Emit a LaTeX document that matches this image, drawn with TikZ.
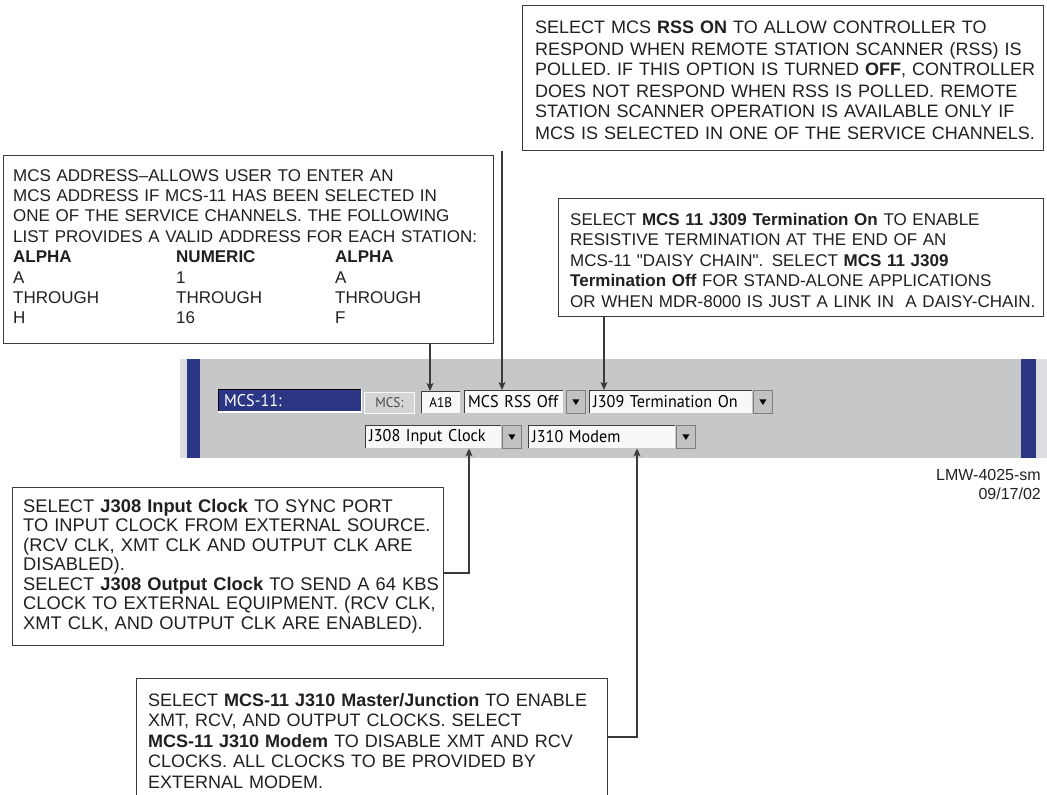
\documentclass[tikz,border=0pt]{standalone}
\usepackage{fontspec}
\setmainfont[Ligatures=TeXOff]{Liberation Sans}
\newfontfamily\uifont[FakeStretch=0.95]{PT Sans}
\usetikzlibrary{arrows.meta,calc}

\definecolor{ink}{HTML}{231F20}
\definecolor{wire}{HTML}{3A3A3A}
\definecolor{panelgray}{HTML}{C6C7C9}
\definecolor{panellight}{HTML}{DDDEE0}
\definecolor{panelblue}{HTML}{2B3784}
\definecolor{fieldbg}{HTML}{F8F8F8}
\definecolor{fieldedge}{HTML}{3C3C3C}
\definecolor{btngray}{HTML}{C0C1C3}
\definecolor{btnedge}{HTML}{7D7E80}
\definecolor{lblgray}{HTML}{D3D4D6}
\definecolor{lbltext}{HTML}{4A4A4A}

\begin{document}
\begin{tikzpicture}[x=1pt,y=-1pt,
  callout/.style={draw=wire,line width=1.2pt,fill=white,inner sep=0pt,anchor=north west},
  note/.style={anchor=base west,align=left,inner sep=0pt,text=ink,text width=#1},
  note/.default=520pt,
  arr/.style={draw=wire,line width=1.3pt,-{Stealth[length=8pt,width=7pt,inset=2pt]}},
  uitext/.style={font=\uifont\fontsize{17}{20}\selectfont},
  field/.style={anchor=north west,inner sep=0pt,inner xsep=4pt,fill=fieldbg,
    minimum height=23pt,align=left,uitext,text=black,
    path picture={\draw[fieldedge,line width=2.4pt]
      (path picture bounding box.south west) -- (path picture bounding box.north west)
      -- (path picture bounding box.north east);}},
  dropbtn/.style={anchor=north west,inner sep=0pt,fill=btngray,draw=btnedge,line width=0.8pt,
    minimum width=19pt,minimum height=23pt,
    path picture={\fill[black] ([shift={(-3.5,-2.5)}]path picture bounding box.center)
      -- ++(7,0) -- ++(-3.5,5.5) -- cycle;}},
]
\useasboundingbox (0,0) rectangle (1047,795);
\clip (0,0) rectangle (1047,795);

% ---------- control panel strip ----------
\node[fill=panellight,inner sep=0pt,anchor=north west,minimum width=867pt,minimum height=99pt] (panel) at (180,359) {};
\node[fill=panelgray,inner sep=0pt,anchor=north west,minimum width=821pt,minimum height=99pt] (panelmid) at (200,359) {};
\node[fill=panelblue,inner sep=0pt,anchor=north west,minimum width=13pt,minimum height=99pt] (barL) at (187,359) {};
\node[fill=panelblue,inner sep=0pt,anchor=north west,minimum width=15pt,minimum height=99pt] (barR) at (1021,359) {};

% first row of controls
\node[anchor=north west,inner sep=0pt,inner xsep=6pt,fill=panelblue,text width=132pt,
  minimum height=23pt,align=left,uitext,text=white,
  path picture={\draw[black,line width=2.4pt]
      (path picture bounding box.south west) -- (path picture bounding box.north west)
      -- (path picture bounding box.north east);
    \draw[white,line width=1.6pt]
      (path picture bounding box.south west) -- (path picture bounding box.south east)
      -- (path picture bounding box.north east);}] (mcs11) at (218,389) {MCS-11:};
\node[anchor=north west,inner sep=0pt,fill=lblgray,draw=white!85!lblgray,line width=0.8pt,
  minimum width=50pt,minimum height=21pt,text=lbltext,
  font=\uifont\fontsize{14}{16}\selectfont] (mcslbl) at (364,392) {MCS:};
\node[field,inner xsep=0pt,text width=39pt,align=center,minimum height=22pt,
  font=\uifont\fontsize{14}{16}\selectfont] (a1b) at (421,391) {A1B};
\node[field,text width=91pt] (rss) at (464,390) {MCS~RSS~Off};
\node[dropbtn] (rssbtn) at (566,390) {};
\node[field,text width=155pt] (j309) at (589,390) {J309~Termination~On};
\node[dropbtn] (j309btn) at (753,390) {};

% second row of controls
\node[field,text width=128pt] (j308) at (365,425) {J308~Input~Clock};
\node[dropbtn] (j308btn) at (502,425) {};
\node[field,text width=139pt] (j310) at (528,425) {J310~Modem};
\node[dropbtn] (j310btn) at (676,425) {};

% ---------- callout boxes ----------
\node[callout,minimum width=521pt,minimum height=145pt] (rssbox) at (522,5) {};
\node[note,font=\fontsize{18}{21}\selectfont] (rsstxt) at (535,34)
 {SELECT MCS \textbf{RSS ON} TO ALLOW CONTROLLER TO\\
  RESPOND WHEN REMOTE STATION SCANNER (RSS) IS\\
  POLLED. IF THIS OPTION IS TURNED \textbf{OFF}, CONTROLLER\\
  DOES NOT RESPOND WHEN RSS IS POLLED. REMOTE\\
  STATION SCANNER OPERATION IS AVAILABLE ONLY IF\\
  MCS IS SELECTED IN ONE OF THE SERVICE CHANNELS.};

\node[callout,minimum width=490pt,minimum height=188pt] (addr) at (3,155) {};
\node[note,font=\fontsize{17}{20.4}\selectfont] (addrtxt) at (13,181)
 {MCS ADDRESS–ALLOWS USER TO ENTER AN\\
  MCS ADDRESS IF MCS-11 HAS BEEN SELECTED IN\\
  ONE OF THE SERVICE CHANNELS. THE FOLLOWING\\
  LIST PROVIDES A VALID ADDRESS FOR EACH STATION:};
\node[note=150pt,font=\fontsize{17}{20.4}\selectfont] (colA) at (13,262.6)
 {\textbf{ALPHA}\\A\\THROUGH\\H};
\node[note=150pt,font=\fontsize{17}{20.4}\selectfont] (colB) at (176,262.6)
 {\textbf{NUMERIC}\\1\\THROUGH\\16};
\node[note=150pt,font=\fontsize{17}{20.4}\selectfont] (colC) at (335,262.6)
 {\textbf{ALPHA}\\A\\THROUGH\\F};

\node[callout,minimum width=485pt,minimum height=118pt] (j309box) at (558,198) {};
\node[note,font=\fontsize{17}{20.5}\selectfont] (j309txt) at (570,225)
 {SELECT \textbf{MCS 11 J309 Termination On} TO ENABLE\\
  RESISTIVE TERMINATION AT THE END OF AN\\
  MCS-11 "DAISY CHAIN". SELECT \textbf{MCS 11 J309}\\
  \textbf{Termination Off} FOR STAND-ALONE APPLICATIONS\\
  OR WHEN MDR-8000 IS JUST A LINK IN\ \ A DAISY-CHAIN.};

\node[callout,minimum width=431pt,minimum height=158pt] (j308box) at (12,487) {};
\node[note,font=\fontsize{18.3}{19.5}\selectfont] (j308txt) at (23,512)
 {SELECT \textbf{J308 Input Clock} TO SYNC PORT\\
  TO INPUT CLOCK FROM EXTERNAL SOURCE.\\
  (RCV CLK, XMT CLK AND OUTPUT CLK ARE\\
  DISABLED).\\
  SELECT \textbf{J308 Output Clock} TO SEND A 64 KBS\\
  CLOCK TO EXTERNAL EQUIPMENT. (RCV CLK,\\
  XMT CLK, AND OUTPUT CLK ARE ENABLED).};

\node[callout,minimum width=471pt,minimum height=150pt] (j310box) at (136,678) {};
\node[note,font=\fontsize{18}{20.5}\selectfont] (j310txt) at (148,706)
 {SELECT \textbf{MCS-11 J310 Master/Junction} TO ENABLE\\
  XMT, RCV, AND OUTPUT CLOCKS. SELECT\\
  \textbf{MCS-11 J310 Modem} TO DISABLE XMT AND RCV\\
  CLOCKS. ALL CLOCKS TO BE PROVIDED BY\\
  EXTERNAL MODEM.};

% drawing number and date
\node[anchor=base east,inner sep=0pt,text=ink,font=\fontsize{16}{19}\selectfont] (dwg) at (1041,480) {LMW-4025-sm};
\node[anchor=base east,inner sep=0pt,text=ink,font=\fontsize{16}{19}\selectfont] (date) at (1041,499) {09/17/02};

% ---------- leader arrows ----------
\coordinate (a1bTip) at ([xshift=9pt]a1b.north west);
\coordinate (rssTip) at ([xshift=38pt]rss.north west);
\coordinate (j309Tip) at ([xshift=15pt]j309.north west);
\coordinate (j308Tip) at ([xshift=104pt]j308.south west);
\coordinate (j310Tip) at ([xshift=109pt]j310.south west);

\draw[arr] (a1bTip |- addr.south) -- (a1bTip);
\draw[arr] (rssTip |- rssbox.south) -- (rssTip);
\draw[arr] (j309Tip |- j309box.south) -- (j309Tip);
\draw[arr] ([yshift=-86pt]j308box.north east) -| (j308Tip);
\draw[arr] ([yshift=-59pt]j310box.north east) -| (j310Tip);
\end{tikzpicture}
\end{document}
